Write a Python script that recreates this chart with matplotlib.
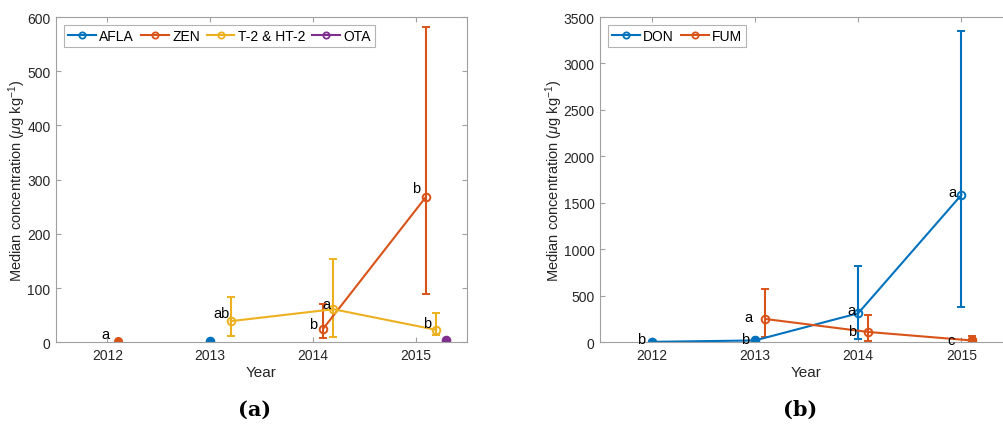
import matplotlib
matplotlib.use("Agg")
import matplotlib.pyplot as plt
from matplotlib.lines import Line2D
import numpy as np

plt.rcParams['font.family'] = ['Liberation Sans', 'DejaVu Sans']
plt.rcParams['mathtext.fontset'] = 'custom'
plt.rcParams['mathtext.rm'] = 'Liberation Sans'
plt.rcParams['mathtext.it'] = 'Liberation Sans:italic'

C_BLUE = '#0072BD'
C_ORANGE = '#D95319'
C_YELLOW = '#EDB120'
C_PURPLE = '#7E2F8E'

# ---------------- Panel (a) data ----------------
afla_years = [2013]
afla_med = [2]
afla_lo = [2]
afla_hi = [2]

zen_years = [2012, 2014, 2015]
zen_med = [2, 25, 268]
zen_lo = [2, 8, 89]
zen_hi = [2, 71, 581]
zen_letters = ['a', 'b', 'b']

t2_years = [2013, 2014, 2015]
t2_med = [39, 61, 23]
t2_lo = [12, 10, 13]
t2_hi = [83, 154, 54]
t2_letters = ['ab', 'a', 'b']

ota_years = [2015]
ota_med = [5]
ota_lo = [5]
ota_hi = [5]

# ---------------- Panel (b) data ----------------
don_years = [2012, 2013, 2014, 2015]
don_med = [5, 20, 312, 1586]
don_lo = [5, 20, 36, 377]
don_hi = [5, 20, 818, 3351]
don_letters = ['b', 'b', 'a', 'a']

fum_years = [2013, 2014, 2015]
fum_med = [251, 111, 20]
fum_lo = [54, 17, 5]
fum_hi = [574, 290, 65]
fum_letters = ['a', 'b', 'c']

year_ticks = [2012, 2013, 2014, 2015]

fig = plt.figure(figsize=(10.04, 4.27), dpi=100)
axA = fig.add_axes([0.0558, 0.196, 0.4093, 0.7618])
axB = fig.add_axes([0.5976, 0.196, 0.4114, 0.7618])

TXT = '#262626'
SP = '#A0A0A0'
FS_LET = 10.5


def style(ax, ylim, yticks):
    ax.set_xlim(2011.5, 2015.5)
    ax.set_ylim(*ylim)
    ax.set_xticks(year_ticks)
    ax.set_xticklabels([str(y) for y in year_ticks])
    ax.set_yticks(yticks)
    ax.tick_params(direction='in', top=True, right=True, length=3.5,
                   colors=SP, labelcolor=TXT, labelsize=10, width=0.8, pad=4)
    for s in ax.spines.values():
        s.set_color(SP)
        s.set_linewidth(0.8)
    ax.set_xlabel('Year', fontsize=11, color=TXT, labelpad=2)
    ax.set_ylabel('Median concentration ($\\mu$g kg$^{-1}$)', fontsize=10.5,
                  color=TXT, labelpad=-1)


def series(ax, years, off, med, lo, hi, color, filled=False, connect=True):
    x = np.array(years, dtype=float) + off
    med = np.array(med, dtype=float)
    yerr = [med - np.array(lo, dtype=float), np.array(hi, dtype=float) - med]
    fc = color if filled else 'none'
    ax.errorbar(x, med, yerr=yerr, color=color, marker='o', markersize=5.5,
                markerfacecolor=fc, markeredgewidth=1.4, linewidth=1.5,
                capsize=3, capthick=1.5, elinewidth=1.5,
                linestyle='-' if connect else 'none')
    return x


def handle(color):
    return Line2D([], [], color=color, marker='o', markersize=4.5,
                  markerfacecolor='none', markeredgewidth=1.3, linewidth=1.5)


# -------- Panel (a) --------
series(axA, afla_years, 0.0, afla_med, afla_lo, afla_hi, C_BLUE, filled=True)
xz = np.array(zen_years, dtype=float) + 0.1
axA.plot(xz[0], zen_med[0], 'o', color=C_ORANGE, markersize=5.5)
series(axA, zen_years[1:], 0.1, zen_med[1:], zen_lo[1:], zen_hi[1:], C_ORANGE)
series(axA, t2_years, 0.2, t2_med, t2_lo, t2_hi, C_YELLOW)
series(axA, ota_years, 0.3, ota_med, ota_lo, ota_hi, C_PURPLE, filled=True)

axA.text(xz[0] - 0.08, zen_med[0], zen_letters[0], ha='right', va='bottom', fontsize=FS_LET)
axA.text(xz[1] - 0.06, zen_med[1] - 4, zen_letters[1], ha='right', va='bottom', fontsize=FS_LET)
axA.text(xz[2] - 0.06, zen_med[2] + 3, zen_letters[2], ha='right', va='bottom', fontsize=FS_LET)
xt = np.array(t2_years, dtype=float) + 0.2
axA.text(xt[0] - 0.01, t2_med[0] + 2, t2_letters[0], ha='right', va='bottom', fontsize=FS_LET)
axA.text(xt[1] - 0.03, t2_med[1] - 4, t2_letters[1], ha='right', va='bottom', fontsize=FS_LET)
axA.text(xt[2] - 0.05, t2_med[2] + 0, t2_letters[2], ha='right', va='bottom', fontsize=FS_LET)

style(axA, (0, 600), np.arange(0, 601, 100))
order = ['AFLA', 'ZEN', 'T-2 & HT-2', 'OTA']
colsA = [C_BLUE, C_ORANGE, C_YELLOW, C_PURPLE]
legA = axA.legend([handle(c) for c in colsA], order, loc='upper left', ncol=4,
                  fontsize=10, frameon=True, fancybox=False, edgecolor=SP,
                  handlelength=2.0, handletextpad=0.25, columnspacing=0.5,
                  borderpad=0.3, borderaxespad=0.55)
legA.get_frame().set_linewidth(0.8)

# -------- Panel (b) --------
series(axB, don_years, 0.0, don_med, don_lo, don_hi, C_BLUE)
xd = np.array(don_years, dtype=float)
axB.plot(xd[:2], don_med[:2], 'o', color=C_BLUE, markersize=5.5)
series(axB, fum_years, 0.1, fum_med, fum_lo, fum_hi, C_ORANGE)
xf = np.array(fum_years, dtype=float) + 0.1
axB.plot(xf[2], fum_med[2], 'o', color=C_ORANGE, markersize=5.5)

axB.text(xd[0] - 0.06, don_med[0] - 45, don_letters[0], ha='right', va='bottom', fontsize=FS_LET)
axB.text(xd[1] - 0.06, don_med[1] - 60, don_letters[1], ha='right', va='bottom', fontsize=FS_LET)
axB.text(xd[2] - 0.03, don_med[2] - 40, don_letters[2], ha='right', va='bottom', fontsize=FS_LET)
axB.text(xd[3] - 0.05, don_med[3] - 40, don_letters[3], ha='right', va='bottom', fontsize=FS_LET)
axB.text(xf[0] - 0.12, fum_med[0] - 50, fum_letters[0], ha='right', va='bottom', fontsize=FS_LET)
axB.text(xf[1] - 0.12, fum_med[1] - 60, fum_letters[1], ha='right', va='bottom', fontsize=FS_LET)
axB.text(xf[2] - 0.16, fum_med[2] - 70, fum_letters[2], ha='right', va='bottom', fontsize=FS_LET)

style(axB, (0, 3500), np.arange(0, 3501, 500))
legB = axB.legend([handle(C_BLUE), handle(C_ORANGE)], ['DON', 'FUM'],
                  loc='upper left', ncol=2, fontsize=10, frameon=True,
                  fancybox=False, edgecolor=SP, handlelength=2.0,
                  handletextpad=0.25, columnspacing=0.5, borderpad=0.3,
                  borderaxespad=0.55)
legB.get_frame().set_linewidth(0.8)

# panel labels
fig.text(0.254, 0.04, '(a)', ha='center', va='center', fontsize=15,
         fontweight='bold', family='DejaVu Serif')
fig.text(0.797, 0.04, '(b)', ha='center', va='center', fontsize=15,
         fontweight='bold', family='DejaVu Serif')

fig.savefig('out.png', dpi=100)
